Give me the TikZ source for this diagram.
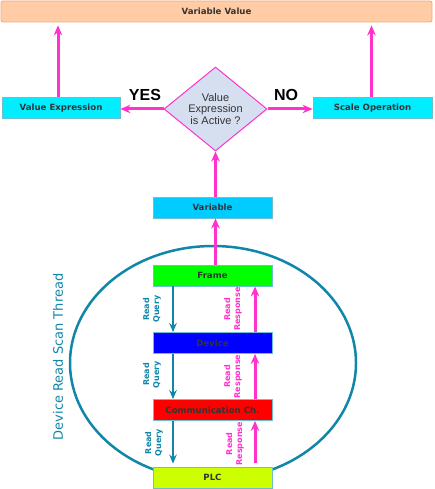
\documentclass[tikz,border=0pt]{standalone}
\usepackage{fontspec}
\setmainfont{DejaVu Sans}
\newfontfamily\arialfont{Liberation Sans}
\usepackage{tikz}
\usetikzlibrary{
  positioning,
  calc,
  arrows.meta,
  shapes.geometric
}
\definecolor{pinkline}{RGB}{255,51,204}
\definecolor{tealline}{RGB}{16,134,168}
\definecolor{peach}{RGB}{255,204,165}
\definecolor{peachline}{RGB}{245,168,120}
\definecolor{cyanbox}{RGB}{0,238,255}
\definecolor{skybox}{RGB}{0,204,255}
\definecolor{greenbox}{RGB}{0,255,0}
\definecolor{bluebox}{RGB}{0,0,255}
\definecolor{redbox}{RGB}{255,0,0}
\definecolor{limebox}{RGB}{204,255,0}
\definecolor{boxline}{RGB}{110,190,210}
\definecolor{boxtext}{RGB}{51,51,51}
\definecolor{condfill}{RGB}{214,223,240}
\tikzstyle{box}=[draw=boxline, line width=0.8pt, minimum width=119pt, minimum height=21pt, inner sep=0pt, text=boxtext, font=\fontsize{8.6}{10}\selectfont\bfseries]
\tikzstyle{up}=[-{Stealth[length=10pt,width=8.5pt]}, line width=3pt, draw=pinkline]
\tikzstyle{query}=[-{Stealth[length=9pt,width=7.5pt]}, line width=2.5pt, draw=tealline]
\tikzstyle{qlabel}=[rotate=90, align=center, inner sep=0pt, text=tealline, font=\fontsize{8}{10}\selectfont\bfseries]
\tikzstyle{rlabel}=[qlabel, text=pinkline]
\tikzstyle{answer}=[inner sep=0pt, font=\arialfont\fontsize{16}{16}\selectfont\bfseries]

\begin{document}
\begin{tikzpicture}[x=1pt, y=-1pt]
    \useasboundingbox (0,0) rectangle (434,489);
    \coordinate (qx) at (173,0);
    \coordinate (rx) at (255,0);

    % スキャンスレッドの楕円
    \draw[tealline, line width=2.5pt] (213,363) ellipse [x radius=143, y radius=117];
    \node[rotate=90, text=tealline, font=\fontsize{13}{13}\selectfont] (thread) at (58,357) {Device Read Scan Thread};

    % 上段
    \node[box, minimum width=431pt, fill=peach, draw=peachline, rounded corners=2pt] (value) at (216.5,11.5) {Variable Value};
    \node[box, minimum width=118pt, fill=cyanbox] (vexp) at (61,108) {Value Expression};
    \node[box, fill=cyanbox] (scale) at (372.5,108) {Scale Operation};
    \node[diamond, aspect=1.23, inner sep=0pt, minimum width=103pt, minimum height=84pt, draw=pinkline, line width=1pt, fill=condfill, align=center, text=boxtext, font=\arialfont\fontsize{11}{11.7}\selectfont] (cond) at (215.5,109) {Value\\Expression\\is Active ?};

    % 下段
    \node[box, fill=skybox] (var) at (212.5,207.5) {Variable};
    \node[box, fill=greenbox] (frame) at (212.5,275.5) {Frame};
    \node[box, fill=bluebox] (device) at (212.5,343) {Device};
    \node[box, fill=redbox] (comm) at (212.5,410) {Communication Ch.};
    \node[box, fill=limebox] (plc) at (212.5,477.5) {PLC};

    % 値へ
    \draw[up, shorten >=3pt] ([xshift=-3pt]vexp.north) -- ([xshift=-3pt]vexp.north |- value.south);
    \draw[up, shorten >=3pt] ([xshift=-1pt]scale.north) -- ([xshift=-1pt]scale.north |- value.south);
    \draw[up] (cond.west) -- (cond.west -| vexp.east) node[midway, above=7pt, xshift=3pt, answer] (yes) {YES};
    \draw[up] (cond.east) -- (cond.east -| scale.west) node[midway, above=7pt, xshift=-4pt, answer] (no) {NO};
    \draw[up] (var.north -| cond.south) -- (cond.south);
    \draw[up] (frame.north -| cond.south) -- (var.south -| cond.south);

    % 読み出し要求
    \draw[query] (frame.south -| qx) -- (device.north -| qx);
    \draw[query] (device.south -| qx) -- (comm.north -| qx);
    \draw[query] (comm.south -| qx) -- ($(plc.north -| qx)+(0,-3)$);
    \node[qlabel] (q1) at ($(frame.south -| qx)!0.5!(device.north -| qx)+(-21,0)$) {Read\\Query};
    \node[qlabel] (q2) at ($(device.south -| qx)!0.5!(comm.north -| qx)+(-21,-2)$) {Read\\Query};
    \node[qlabel] (q3) at ($(comm.south -| qx)!0.5!(plc.north -| qx)+(-19,-1)$) {Read\\Query};

    % 読み出し応答
    \draw[up] (device.north -| rx) -- (frame.south -| rx);
    \draw[up] (comm.north -| rx) -- (device.south -| rx);
    \draw[up] ($(plc.north -| rx)+(0,-4)$) -- (comm.south -| rx);
    \node[rlabel] (r1) at ($(frame.south -| rx)!0.5!(device.north -| rx)+(-22,0)$) {Read\\Response};
    \node[rlabel] (r2) at ($(device.south -| rx)!0.5!(comm.north -| rx)+(-22,0)$) {Read\\Response};
    \node[rlabel] (r3) at ($(comm.south -| rx)!0.5!(plc.north -| rx)+(-20,0)$) {Read\\Response};
\end{tikzpicture}
\end{document}
